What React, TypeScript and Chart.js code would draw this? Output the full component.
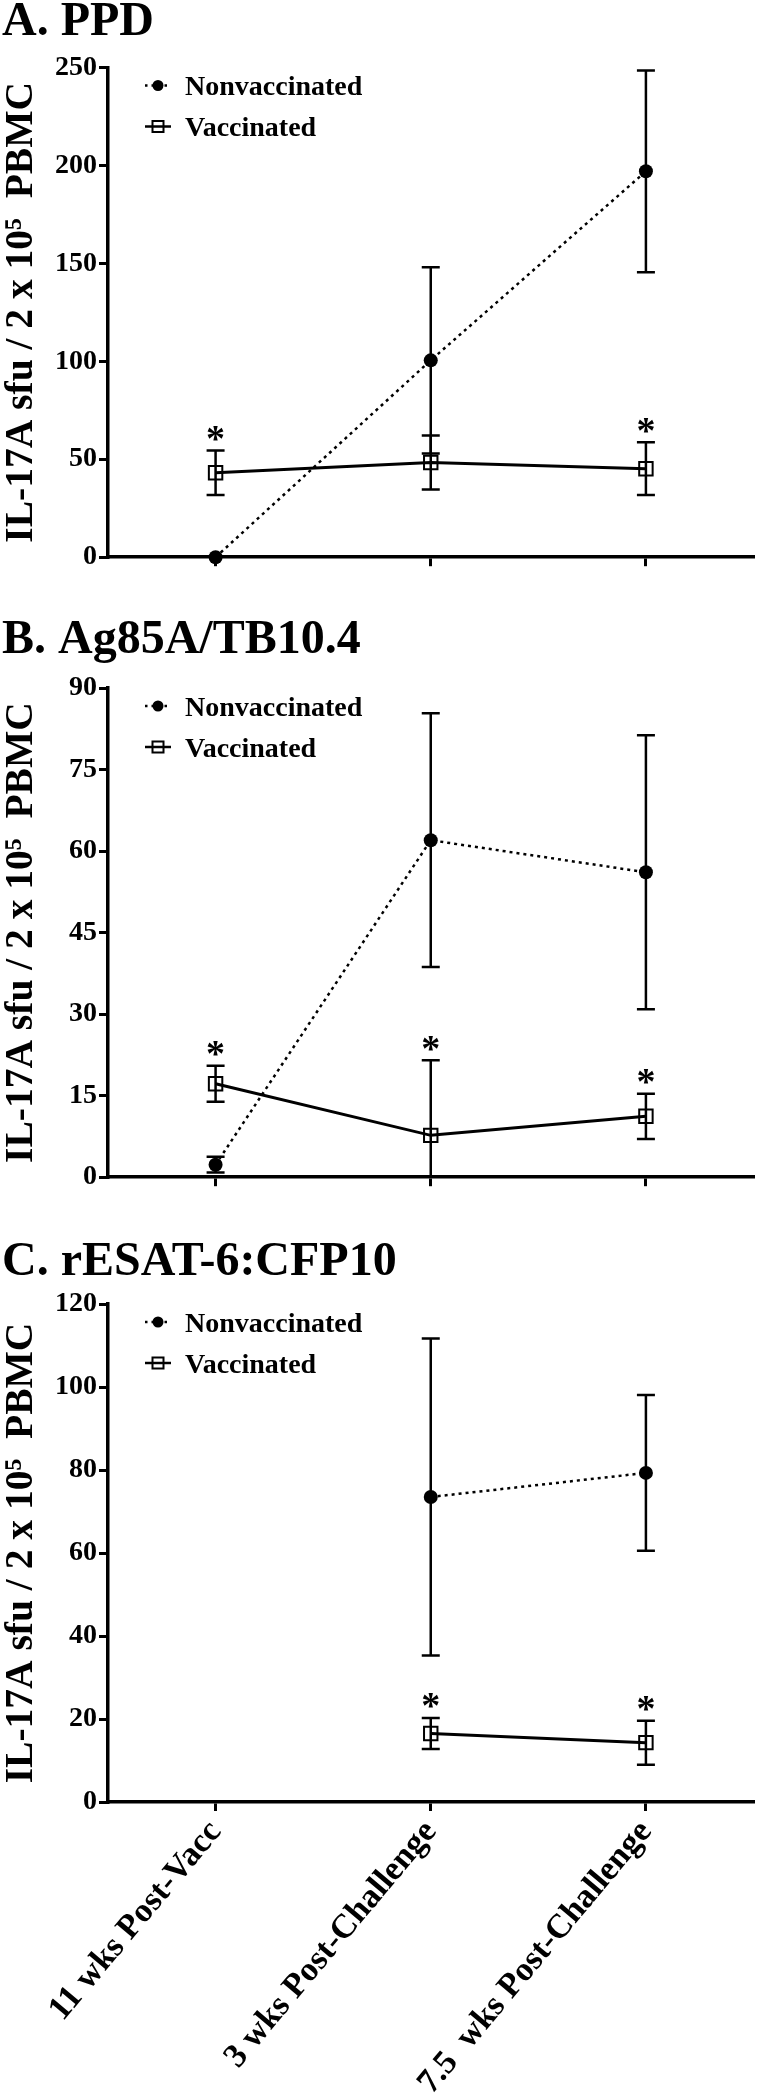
import React, { useEffect, useRef } from 'react';
import { Chart, registerables } from 'chart.js';

Chart.register(...registerables);

// ---------- DATA ----------
const categories = ['11 wks Post-Vacc', '3 wks Post-Challenge', '7.5  wks Post-Challenge'];
const seriesNames = ['Nonvaccinated', 'Vaccinated'];
const yAxisTitle = 'IL-17A sfu / 2 x 10\u2075  PBMC';

// A. PPD
const ppdNonvacc = [0, 100.5, 197];
const ppdNonvaccErr = [0, 47.5, 51.5];
const ppdVacc = [43.1, 48.3, 45.2];
const ppdVaccErr = [11.4, 13.8, 13.5];
const ppdSig = [true, false, true];
const ppdTicks = [0, 50, 100, 150, 200, 250];

// B. Ag85A/TB10.4
const agNonvacc = [2.3, 62, 56.1];
const agNonvaccErr = [1.45, 23.35, 25.2];
const agVacc = [17.2, 7.7, 11.2];
const agVaccErr = [3.3, 13.8, 4.15];
const agSig = [true, true, true];
const agTicks = [0, 15, 30, 45, 60, 75, 90];

// C. rESAT-6:CFP10
const esatNonvacc = [null, 73.5, 79.3];
const esatNonvaccErr = [null, 38.2, 18.75];
const esatVacc = [null, 16.5, 14.3];
const esatVaccErr = [null, 3.75, 5.3];
const esatSig = [false, true, true];
const esatTicks = [0, 20, 40, 60, 80, 100, 120];

const FONT = '"Liberation Serif", "Times New Roman", serif';

type PanelDef = {
  title: string;
  top: number;
  height: number;
  padTop: number;
  xAxisHeight: number;
  titleBaseline: number;
  showXLabels: boolean;
  nonvacc: (number | null)[];
  nonvaccErr: (number | null)[];
  vacc: (number | null)[];
  vaccErr: (number | null)[];
  sig: boolean[];
  ticks: number[];
};

const panels: PanelDef[] = [
  {
    title: 'A. PPD', top: 0, height: 576, padTop: 67.5, xAxisHeight: 12, titleBaseline: 35,
    showXLabels: false, nonvacc: ppdNonvacc, nonvaccErr: ppdNonvaccErr, vacc: ppdVacc,
    vaccErr: ppdVaccErr, sig: ppdSig, ticks: ppdTicks,
  },
  {
    title: 'B. Ag85A/TB10.4', top: 580, height: 616, padTop: 108, xAxisHeight: 12, titleBaseline: 73,
    showXLabels: false, nonvacc: agNonvacc, nonvaccErr: agNonvaccErr, vacc: agVacc,
    vaccErr: agVaccErr, sig: agSig, ticks: agTicks,
  },
  {
    title: 'C. rESAT-6:CFP10', top: 1200, height: 895, padTop: 104, xAxisHeight: 293, titleBaseline: 75,
    showXLabels: true, nonvacc: esatNonvacc, nonvaccErr: esatNonvaccErr, vacc: esatVacc,
    vaccErr: esatVaccErr, sig: esatSig, ticks: esatTicks,
  },
];

function makeDecorPlugin(p: PanelDef) {
  return {
    id: 'panelDecor',
    beforeDatasetsDraw(chart: any) {
      const ctx = chart.ctx;
      const xs = chart.scales.x;
      const ys = chart.scales.y;
      const area = chart.chartArea;
      const groups = [
        { v: p.nonvacc, e: p.nonvaccErr },
        { v: p.vacc, e: p.vaccErr },
      ];
      ctx.save();
      ctx.strokeStyle = '#000';
      ctx.lineWidth = 2.5;
      ctx.setLineDash([]);
      const cap = 9;
      groups.forEach((g) => {
        g.v.forEach((val, i) => {
          const err = g.e[i];
          if (val == null || err == null || err <= 0) return;
          const x = xs.getPixelForValue(i);
          const yTop = ys.getPixelForValue(val + err);
          const lowVal = val - err;
          const clipped = lowVal < ys.min;
          const yBot = clipped ? area.bottom : ys.getPixelForValue(lowVal);
          ctx.beginPath();
          ctx.moveTo(x, yTop);
          ctx.lineTo(x, yBot);
          ctx.moveTo(x - cap, yTop);
          ctx.lineTo(x + cap, yTop);
          if (!clipped) {
            ctx.moveTo(x - cap, yBot);
            ctx.lineTo(x + cap, yBot);
          }
          ctx.stroke();
        });
      });
      ctx.restore();
    },
    afterDraw(chart: any) {
      const ctx = chart.ctx;
      const xs = chart.scales.x;
      const ys = chart.scales.y;
      const area = chart.chartArea;
      ctx.save();
      // panel title
      ctx.fillStyle = '#000';
      ctx.font = `bold 48px ${FONT}`;
      ctx.textAlign = 'left';
      ctx.textBaseline = 'alphabetic';
      ctx.fillText(p.title, 2, p.titleBaseline);

      // asterisks
      ctx.font = `bold 38px ${FONT}`;
      ctx.textAlign = 'center';
      const m = ctx.measureText('*');
      const asc = m.actualBoundingBoxAscent;
      const desc = m.actualBoundingBoxDescent;
      p.sig.forEach((s, i) => {
        const v = p.vacc[i];
        const e = p.vaccErr[i];
        if (!s || v == null || e == null) return;
        const x = xs.getPixelForValue(i);
        const cy = ys.getPixelForValue(v + e) - 17;
        ctx.fillText('*', x, cy + (asc - desc) / 2);
      });

      // legend
      const lx0 = 145;
      const lx1 = 171;
      const mx = 158;
      const tx = 185;
      const row1 = area.top + 18;
      const row2 = area.top + 59;
      ctx.strokeStyle = '#000';
      // Nonvaccinated: dotted line + filled circle
      ctx.lineWidth = 2.5;
      ctx.setLineDash([2.5, 4]);
      ctx.beginPath();
      ctx.moveTo(lx0, row1);
      ctx.lineTo(lx1, row1);
      ctx.stroke();
      ctx.setLineDash([]);
      ctx.beginPath();
      ctx.arc(mx, row1, 5.5, 0, Math.PI * 2);
      ctx.fill();
      // Vaccinated: solid line + open square
      ctx.lineWidth = 2.5;
      ctx.beginPath();
      ctx.moveTo(lx0, row2);
      ctx.lineTo(lx1, row2);
      ctx.stroke();
      ctx.lineWidth = 2;
      ctx.strokeRect(mx - 5.5, row2 - 5.5, 11, 11);

      ctx.font = `bold 28px ${FONT}`;
      ctx.textAlign = 'left';
      ctx.textBaseline = 'alphabetic';
      ctx.fillText(seriesNames[0], tx, row1 + 9.5);
      ctx.fillText(seriesNames[1], tx, row2 + 9.5);
      ctx.restore();
    },
  };
}

function Panel({ p }: { p: PanelDef }) {
  const ref = useRef<HTMLCanvasElement | null>(null);
  useEffect(() => {
    if (!ref.current) return;
    const yMax = p.ticks[p.ticks.length - 1];
    const chart = new Chart(ref.current, {
      type: 'line',
      data: {
        labels: categories,
        datasets: [
          {
            label: seriesNames[0],
            data: p.nonvacc as any,
            borderColor: '#000',
            borderWidth: 2.5,
            borderDash: [3, 4],
            pointStyle: 'circle',
            pointRadius: 7,
            pointBackgroundColor: '#000',
            pointBorderColor: '#000',
            pointBorderWidth: 0,
            spanGaps: false,
            clip: false as any,
            tension: 0,
          },
          {
            label: seriesNames[1],
            data: p.vacc as any,
            borderColor: '#000',
            borderWidth: 3,
            pointStyle: 'rect',
            pointRadius: 9.5,
            pointBackgroundColor: 'rgba(0,0,0,0)',
            pointBorderColor: '#000',
            pointBorderWidth: 2,
            spanGaps: false,
            clip: false as any,
            tension: 0,
          },
        ],
      },
      options: {
        responsive: false,
        animation: false,
        devicePixelRatio: 1,
        events: [],
        layout: { padding: { top: p.padTop, left: 0, right: 0, bottom: 0 } },
        plugins: {
          legend: { display: false },
          title: { display: false },
          tooltip: { enabled: false },
        },
        scales: {
          x: {
            type: 'category',
            offset: true,
            afterFit: (s: any) => { s.height = p.xAxisHeight; },
            border: { display: true, color: '#000', width: 3.5 },
            grid: {
              display: true,
              drawOnChartArea: false,
              drawTicks: true,
              tickLength: 9,
              tickWidth: 3,
              tickColor: '#000',
              color: '#000',
              lineWidth: 3,
            },
            ticks: {
              display: p.showXLabels,
              autoSkip: false,
              maxRotation: 50,
              minRotation: 50,
              padding: 2,
              color: '#000',
              font: { family: FONT, size: 34, weight: 'bold' },
            },
          },
          y: {
            type: 'linear',
            min: 0,
            max: yMax,
            afterFit: (s: any) => { s.width = 108; },
            afterBuildTicks: (s: any) => { s.ticks = p.ticks.map((v) => ({ value: v })); },
            border: { display: true, color: '#000', width: 3.5 },
            grid: {
              display: true,
              drawOnChartArea: false,
              drawTicks: true,
              tickLength: 9,
              tickWidth: 3,
              tickColor: '#000',
              color: '#000',
              lineWidth: 3,
            },
            ticks: {
              padding: 2,
              color: '#000',
              font: { family: FONT, size: 28, weight: 'bold' },
            },
            title: {
              display: true,
              text: yAxisTitle,
              color: '#000',
              padding: { top: -2, bottom: 0 },
              font: { family: FONT, size: 39.5, weight: 'bold' },
            },
          },
        },
      } as any,
      plugins: [makeDecorPlugin(p)],
    });
    return () => chart.destroy();
  }, []);
  return (
    <canvas
      ref={ref}
      width={765}
      height={p.height}
      style={{ position: 'absolute', left: 0, top: p.top, width: 765, height: p.height }}
    />
  );
}

export default function App() {
  return (
    <div style={{ position: 'absolute', left: 0, top: 0, width: 765, height: 2095, background: '#fff', overflow: 'hidden' }}>
      {panels.map((p, i) => (
        <Panel key={i} p={p} />
      ))}
    </div>
  );
}
